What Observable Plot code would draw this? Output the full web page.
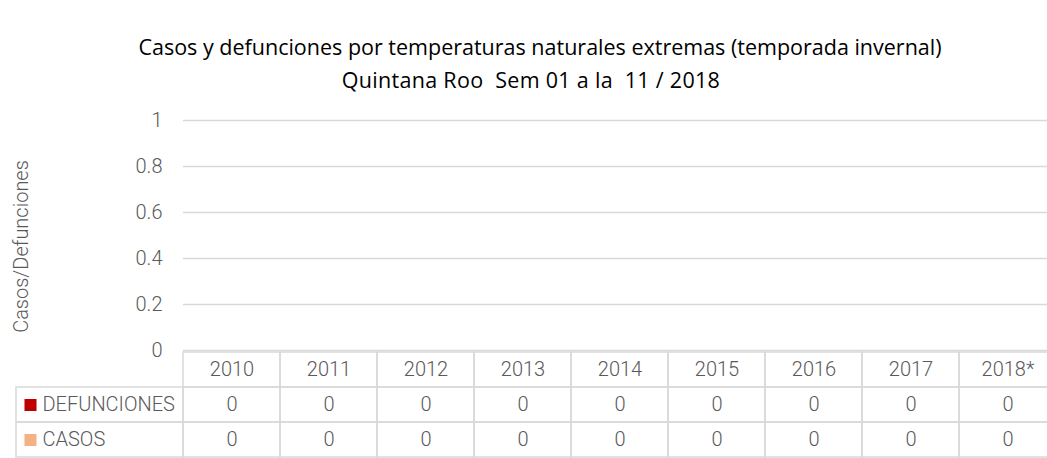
<!DOCTYPE html>
<html>
<head>
<meta charset="utf-8">
<script src="https://cdn.jsdelivr.net/npm/d3@7"></script>
<script src="https://cdn.jsdelivr.net/npm/@observablehq/plot@0.6"></script>
<style>
  html, body { margin: 0; padding: 0; background: #fff; overflow: hidden; }
  #wrap { position: relative; width: 1047px; height: 458px; overflow: hidden; background: #fff; }
  #title { position: absolute; left: 0; top: 30px; width: 1080px; text-align: center;
           font-family: "Open Sans", sans-serif; font-size: 21.5px; line-height: 33px; color: #000; }
  #chart, #table { position: absolute; left: 0; width: 1080px; }
  #chart { top: 100px; }
  #table { top: 350px; }
</style>
</head>
<body>
<div id="wrap">
  <div id="title">
    <div>Casos y defunciones por temperaturas naturales extremas (temporada invernal)</div>
    <div style="white-space: pre; letter-spacing: 0.3px; margin-right: 18px">Quintana Roo  Sem 01 a la  11 / 2018</div>
  </div>
  <div id="chart"></div>
  <div id="table"></div>
</div>
<script>
// ---- data ----
const years = ["2010", "2011", "2012", "2013", "2014", "2015", "2016", "2017", "2018*"];
const defunciones = [0, 0, 0, 0, 0, 0, 0, 0, 0];
const casos = [0, 0, 0, 0, 0, 0, 0, 0, 0];
const seriesNames = ["DEFUNCIONES", "CASOS"];
const seriesColors = ["#c00000", "#f4b183"];
const yTicks = [0, 0.2, 0.4, 0.6, 0.8, 1];
const yLabel = "Casos/Defunciones";

const rows = [
  ...years.map((y, i) => ({year: y, series: "DEFUNCIONES", value: defunciones[i]})),
  ...years.map((y, i) => ({year: y, series: "CASOS", value: casos[i]}))
];

const FONT = "Roboto, sans-serif";
const TXT = "#595959";
const GRID = "#d9d9d9";
const FS = 20;
const W = 1080;
const baseStyle = {background: "none", fontFamily: FONT, overflow: "visible", maxWidth: "none"};

// ---- chart (value axis + gridlines) ----
const chart = Plot.plot({
  width: W,
  height: 262,
  marginTop: 20,
  marginBottom: 12,
  marginLeft: 183,
  marginRight: 24,
  style: baseStyle,
  x: {domain: years, type: "band", padding: 0, axis: null},
  y: {domain: [0, 1], ticks: yTicks, axis: null},
  marks: [
    Plot.gridY(yTicks, {stroke: GRID, strokeOpacity: 1, strokeWidth: 1.5}),
    Plot.axisY(yTicks, {tickSize: 0, tickPadding: 21, fontSize: FS, fill: TXT, fontWeight: 300,
                        tickFormat: d => String(d), label: null}),
    Plot.text([yLabel], {frameAnchor: "left", dx: -162, dy: 11, rotate: -90, textAnchor: "middle",
                         fontSize: FS, fontWeight: 300, fill: TXT, text: d => d})
  ]
});
document.getElementById("chart").appendChild(chart);

// ---- data table ----
const table = Plot.plot({
  width: W,
  height: 108,
  marginTop: 0.5,
  marginBottom: 0.5,
  marginLeft: 183,
  marginRight: 24,
  style: baseStyle,
  x: {domain: years, type: "band", padding: 0, axis: null},
  y: {domain: ["header", ...seriesNames], type: "band", padding: 0, axis: null},
  color: {domain: seriesNames, range: seriesColors},
  marks: [
    Plot.cell(years, {x: d => d, y: () => "header", fill: "none", stroke: GRID, strokeWidth: 1.5, inset: 0}),
    Plot.cell(rows, {x: "year", y: "series", fill: "none", stroke: GRID, strokeWidth: 1.5, inset: 0}),
    Plot.text(years, {x: d => d, y: () => "header", text: d => d, fontSize: FS, fontWeight: 300, fill: TXT}),
    Plot.text(rows, {x: "year", y: "series", text: d => String(d.value), fontSize: FS, fontWeight: 300, fill: TXT}),
    Plot.dot(seriesNames, {y: d => d, frameAnchor: "left", dx: -153, symbol: "square", r: 6.8,
                           fill: d => d, stroke: null}),
    Plot.text(seriesNames, {y: d => d, frameAnchor: "left", dx: -141, textAnchor: "start", text: d => d,
                            fontSize: FS, fontWeight: 300, fill: TXT})
  ]
});
// label-column borders, positioned from the table's own y scale
{
  const ys = table.scale("y");
  const svg = d3.select(table);
  const left = 16, right = 183;
  svg.append("g").selectAll("rect").data(seriesNames).join("rect")
    .attr("x", left).attr("y", d => ys.apply(d))
    .attr("width", right - left).attr("height", ys.bandwidth)
    .attr("fill", "none").attr("stroke", GRID).attr("stroke-width", 1.5);
}
document.getElementById("table").appendChild(table);
</script>
</body>
</html>
